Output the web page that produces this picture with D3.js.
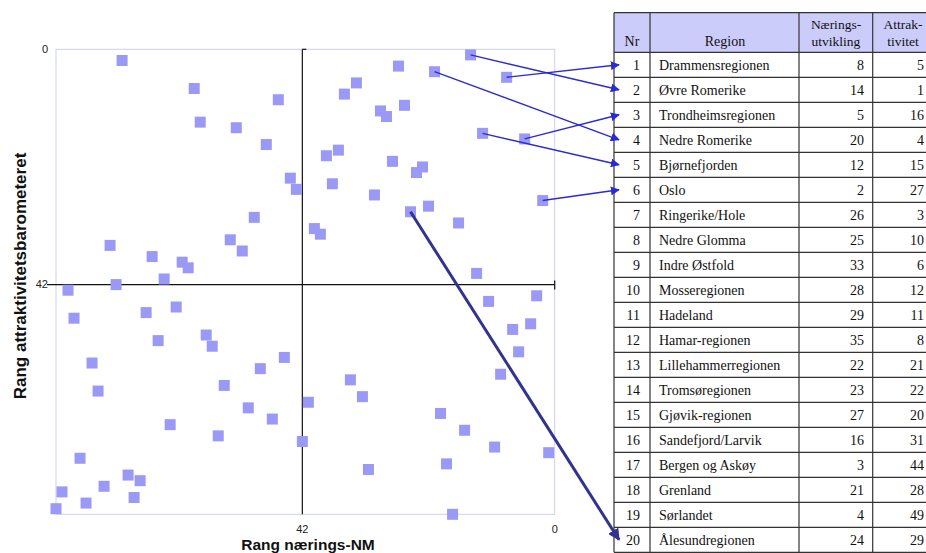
<!DOCTYPE html>
<html>
<head>
<meta charset="utf-8">
<script src="https://cdn.jsdelivr.net/npm/d3@7"></script>
<style>
  html, body { margin: 0; padding: 0; background: #fff; overflow: hidden; }
  svg { display: block; }
</style>
</head>
<body>
<svg id="chart" width="926" height="553"></svg>
<script>
// Rank in nærings-NM (x) and attraktivitetsbarometeret (y) for all 83 regions
const naeringRank = [
  72, 60, 46, 59, 53, 48, 44, 43, 50, 74, 54, 52, 67, 62, 61, 65, 73, 81,
  26, 14, 20, 8, 33, 35, 25, 29, 28, 12, 5, 36, 38, 27, 22, 23, 37, 30, 2,
  21, 24, 16, 40, 39, 13,
  80, 68, 63, 66, 58, 57, 45, 77, 49, 76, 55, 41, 51, 47, 64, 56, 42, 79,
  71, 69, 82, 75, 70, 78, 83,
  11, 3, 7, 4, 6, 9, 34, 32, 19, 15, 10, 1, 18, 31, 17
];
const attrakRank = [
  2, 7, 9, 13, 14, 17, 23, 25, 30, 35, 34, 36, 37, 38, 39, 41, 42, 43,
  3, 1, 4, 5, 6, 8, 10, 11, 12, 15, 16, 18, 19, 20, 21, 22, 24, 26, 27,
  28, 29, 31, 32, 33, 40,
  48, 47, 46, 52, 51, 53, 55, 56, 57, 61, 60, 63, 64, 66, 67, 69, 70, 73,
  76, 77, 79, 78, 80, 81, 82,
  45, 44, 50, 49, 54, 58, 59, 62, 65, 68, 71, 72, 74, 75, 83
];

// Table of the top 20
const tableNr = d3.range(1, 21);
const tableRegion = [
  'Drammensregionen', 'Øvre Romerike', 'Trondheimsregionen', 'Nedre Romerike',
  'Bjørnefjorden', 'Oslo', 'Ringerike/Hole', 'Nedre Glomma', 'Indre Østfold',
  'Mosseregionen', 'Hadeland', 'Hamar-regionen', 'Lillehammerregionen',
  'Tromsøregionen', 'Gjøvik-regionen', 'Sandefjord/Larvik', 'Bergen og Askøy',
  'Grenland', 'Sørlandet', 'Ålesundregionen'
];
const tableNaering = [8, 14, 5, 20, 12, 2, 26, 25, 33, 28, 29, 35, 22, 23, 27, 16, 3, 21, 4, 24];
const tableAttrak = [5, 1, 16, 4, 15, 27, 3, 10, 6, 12, 11, 8, 21, 22, 20, 31, 44, 28, 49, 29];

// Rows that get an arrow from their point
const arrowRows = [1, 2, 3, 4, 5, 6, 20];
const boldArrowRows = [20];

const xTicks = [42, 0];
const yTicks = [0, 42];
const rankMax = 83;
const crossAt = 42;

const svg = d3.select('#chart');

// Plot area
const plot = { left: 56, right: 554.7, top: 49.3, bottom: 514.3 };

const x = d3.scaleLinear().domain([rankMax, 0]).range([plot.left, plot.right]);
const y = d3.scaleLinear().domain([0, rankMax]).range([plot.top, plot.bottom]);

const defs = svg.append('defs');
function arrowMarker(id, color, size) {
  defs.append('marker')
    .attr('id', id)
    .attr('viewBox', '0 0 10 10')
    .attr('refX', 9)
    .attr('refY', 5)
    .attr('markerWidth', size)
    .attr('markerHeight', size)
    .attr('markerUnits', 'userSpaceOnUse')
    .attr('orient', 'auto')
    .append('path')
    .attr('d', 'M0,0 L10,5 L0,10 z')
    .attr('fill', color);
}
arrowMarker('arrowThin', '#2a2ad8', 9);
arrowMarker('arrowBold', '#33338f', 12);

// Frame
svg.append('rect')
  .attr('x', plot.left)
  .attr('y', plot.top)
  .attr('width', plot.right - plot.left)
  .attr('height', plot.bottom - plot.top)
  .attr('fill', '#fff')
  .attr('stroke', '#cfcff2')
  .attr('stroke-width', 1);

// Crosshair at rank 42
const axes = svg.append('g').attr('stroke', '#111').attr('stroke-width', 1.2);
axes.append('line')
  .attr('x1', plot.left - 9).attr('x2', x(0))
  .attr('y1', y(crossAt)).attr('y2', y(crossAt));
axes.append('line')
  .attr('x1', x(0)).attr('x2', x(0))
  .attr('y1', y(crossAt) - 4).attr('y2', y(crossAt) + 5);
axes.append('line')
  .attr('x1', x(crossAt)).attr('x2', x(crossAt))
  .attr('y1', y(0)).attr('y2', y(rankMax));
axes.append('line')
  .attr('x1', x(crossAt)).attr('x2', x(crossAt) + 4)
  .attr('y1', y(0)).attr('y2', y(0));

// Tick labels
const tickFont = '"Liberation Sans", Arial, sans-serif';
svg.append('g').selectAll('text')
  .data(yTicks)
  .enter()
  .append('text')
  .attr('x', 48)
  .attr('y', d => y(d))
  .attr('dy', '0.35em')
  .attr('text-anchor', 'end')
  .attr('font-family', tickFont)
  .attr('font-size', 11)
  .attr('fill', '#222')
  .text(d => d);

svg.append('g').selectAll('text')
  .data(xTicks)
  .enter()
  .append('text')
  .attr('x', d => x(d))
  .attr('y', 529)
  .attr('dy', '0.35em')
  .attr('text-anchor', 'middle')
  .attr('font-family', tickFont)
  .attr('font-size', 11)
  .attr('fill', '#222')
  .text(d => d);

// Axis titles
svg.append('text')
  .attr('x', 308)
  .attr('y', 549.5)
  .attr('text-anchor', 'middle')
  .attr('font-family', tickFont)
  .attr('font-size', 15.5)
  .attr('font-weight', 'bold')
  .attr('fill', '#111')
  .text('Rang nærings-NM');

svg.append('text')
  .attr('transform', 'translate(26, 276) rotate(-90)')
  .attr('text-anchor', 'middle')
  .attr('font-family', tickFont)
  .attr('font-size', 17)
  .attr('font-weight', 'bold')
  .attr('fill', '#111')
  .text('Rang attraktivitetsbarometeret');

// Points
const markerSize = 11;
svg.append('g').selectAll('rect')
  .data(naeringRank.map((r, i) => ({ x: r, y: attrakRank[i] })))
  .enter()
  .append('rect')
  .attr('x', d => x(d.x) - markerSize / 2)
  .attr('y', d => y(d.y) - markerSize / 2)
  .attr('width', markerSize)
  .attr('height', markerSize)
  .attr('fill', '#9a9af6');

// Table
const table = {
  top: 12.7,
  headerBottom: 52.3,
  rowHeight: 25,
  cols: [614, 650, 799, 872.7, 934]
};
const rowTop = i => table.headerBottom + i * table.rowHeight;
const rowMid = n => rowTop(n - 1) + table.rowHeight / 2;
const tableBottom = rowTop(tableNr.length);

const tbl = svg.append('g');
tbl.append('rect')
  .attr('x', table.cols[0])
  .attr('y', table.top)
  .attr('width', table.cols[4] - table.cols[0])
  .attr('height', table.headerBottom - table.top)
  .attr('fill', '#ccccfb');

const grid = tbl.append('g').attr('stroke', '#333').attr('stroke-width', 1.2);
grid.selectAll('.vline')
  .data(table.cols)
  .enter()
  .append('line')
  .attr('x1', d => d).attr('x2', d => d)
  .attr('y1', table.top).attr('y2', tableBottom);
grid.selectAll('.hline')
  .data([table.top].concat(d3.range(tableNr.length + 1).map(rowTop)))
  .enter()
  .append('line')
  .attr('x1', table.cols[0]).attr('x2', table.cols[4])
  .attr('y1', d => d).attr('y2', d => d);

const serif = '"Liberation Serif", "Times New Roman", serif';
const header = tbl.append('g')
  .attr('font-family', serif)
  .attr('font-size', 13.5)
  .attr('fill', '#111')
  .attr('text-anchor', 'middle');
header.append('text').attr('x', 632).attr('y', 46).attr('font-size', 14).text('Nr');
header.append('text').attr('x', 725).attr('y', 46).attr('font-size', 14).text('Region');
header.append('text').attr('x', 836).attr('y', 29).text('Nærings-');
header.append('text').attr('x', 836).attr('y', 46).text('utvikling');
header.append('text').attr('x', 903).attr('y', 29).text('Attrak-');
header.append('text').attr('x', 903).attr('y', 46).text('tivitet');

const rows = tbl.selectAll('.row')
  .data(tableNr)
  .enter()
  .append('g')
  .attr('font-family', serif)
  .attr('font-size', 14)
  .attr('fill', '#111')
  .attr('transform', (d, i) => `translate(0, ${rowTop(i) + 17.5})`);
rows.append('text').attr('x', 640).attr('text-anchor', 'end').text(d => d);
rows.append('text').attr('x', 659).text((d, i) => tableRegion[i]);
rows.append('text').attr('x', 864).attr('text-anchor', 'end').text((d, i) => tableNaering[i]);
rows.append('text').attr('x', 924).attr('text-anchor', 'end').text((d, i) => tableAttrak[i]);

// Arrows from points to table rows
svg.append('g').selectAll('line')
  .data(arrowRows)
  .enter()
  .append('line')
  .attr('x1', n => x(tableNaering[n - 1]))
  .attr('y1', n => y(tableAttrak[n - 1]))
  .attr('x2', 619)
  .attr('y2', n => rowMid(n))
  .attr('stroke', n => boldArrowRows.includes(n) ? '#33338f' : '#2a2ad8')
  .attr('stroke-width', n => boldArrowRows.includes(n) ? 3 : 1.4)
  .attr('marker-end', n => boldArrowRows.includes(n) ? 'url(#arrowBold)' : 'url(#arrowThin)');
</script>
</body>
</html>
